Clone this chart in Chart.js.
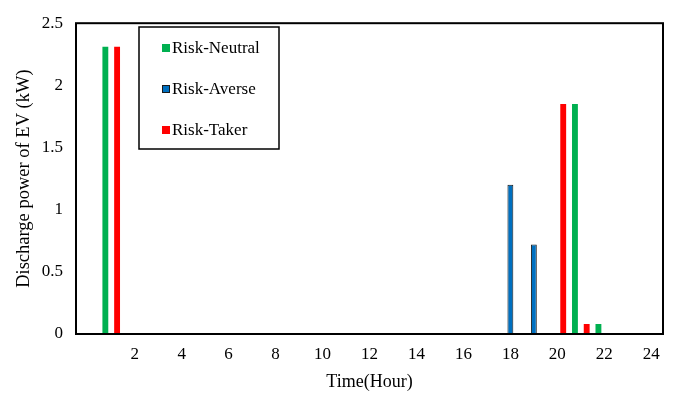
<!DOCTYPE html>
<html>
<head>
<meta charset="utf-8">
<script src="https://cdn.jsdelivr.net/npm/chart.js@4.4.0/dist/chart.umd.min.js"></script>
<style>
    html, body { margin: 0; padding: 0; background: #fff; }
    #wrap { width: 675px; height: 393px; position: relative; }
</style>
</head>
<body>
<div id="wrap"><canvas id="evChart"></canvas></div>
<script>
// Hours on the x axis (0 slot is left unlabeled, as in the original)
const hours = [0, 1, 2, 3, 4, 5, 6, 7, 8, 9, 10, 11, 12, 13, 14, 15, 16, 17, 18, 19, 20, 21, 22, 23, 24];

// Discharge power (kW) per hour
const riskNeutral = [0, 2.31, 0, 0, 0, 0, 0, 0, 0, 0, 0, 0, 0, 0, 0, 0, 0, 0, 0, 0, 0, 1.85, 0.08, 0, 0];
const riskAverse  = [0, 0, 0, 0, 0, 0, 0, 0, 0, 0, 0, 0, 0, 0, 0, 0, 0, 0, 1.2, 0.72, 0, 0, 0, 0, 0];
const riskTaker   = [0, 2.31, 0, 0, 0, 0, 0, 0, 0, 0, 0, 0, 0, 0, 0, 0, 0, 0, 0, 0, 1.85, 0.08, 0, 0, 0];

const yTicks = [0, 0.5, 1, 1.5, 2, 2.5];

const FONT = "'Liberation Serif', 'Times New Roman', serif";

// Black frame around the plot area
const frame = {
    id: 'frame',
    afterDraw(chart) {
        const { ctx, chartArea: a } = chart;
        ctx.save();
        ctx.strokeStyle = '#000';
        ctx.lineWidth = 2;
        ctx.strokeRect(a.left, a.top, a.right - a.left, a.bottom - a.top);
        ctx.restore();
    }
};

// Legend box drawn inside the plot, like the original
const boxLegend = {
    id: 'boxLegend',
    afterDraw(chart) {
        const ctx = chart.ctx;
        const x = 139, y = 27, w = 140, h = 122;
        ctx.save();
        ctx.fillStyle = '#fff';
        ctx.fillRect(x, y, w, h);
        ctx.strokeStyle = '#000';
        ctx.lineWidth = 1.5;
        ctx.strokeRect(x, y, w, h);
        ctx.font = '17px ' + FONT;
        ctx.textBaseline = 'middle';
        chart.data.datasets.forEach((ds, i) => {
            const cy = 48 + i * 41;
            ctx.fillStyle = ds.backgroundColor;
            ctx.fillRect(162, cy - 4, 8, 8);
            if (ds.borderWidth) {
                ctx.strokeStyle = ds.borderColor;
                ctx.lineWidth = 1;
                ctx.strokeRect(162.5, cy - 3.5, 7, 7);
            }
            ctx.fillStyle = '#000';
            ctx.fillText(ds.label, 172, cy + 1);
        });
        ctx.restore();
    }
};

document.addEventListener('DOMContentLoaded', function() {
    const ctx = document.getElementById('evChart').getContext('2d');
    new Chart(ctx, {
        type: 'bar',
        data: {
            labels: hours,
            datasets: [
                {
                    label: 'Risk-Neutral',
                    data: riskNeutral,
                    backgroundColor: '#00B050',
                    borderWidth: 0
                },
                {
                    label: 'Risk-Averse',
                    data: riskAverse,
                    backgroundColor: '#0070C0',
                    borderColor: '#1a1a1a',
                    borderWidth: 1,
                    borderSkipped: false
                },
                {
                    label: 'Risk-Taker',
                    data: riskTaker,
                    backgroundColor: '#FF0000',
                    borderWidth: 0
                }
            ]
        },
        options: {
            responsive: true,
            maintainAspectRatio: false,
            animation: false,
            layout: { padding: { top: 13, right: 12, left: 0, bottom: 0 } },
            datasets: {
                bar: { categoryPercentage: 0.75, barPercentage: 1.0 }
            },
            plugins: {
                legend: { display: false },
                tooltip: { enabled: false }
            },
            scales: {
                x: {
                    grid: { display: false, drawTicks: false },
                    border: { display: false },
                    ticks: {
                        color: '#000',
                        font: { family: FONT, size: 17 },
                        padding: 10,
                        autoSkip: false,
                        maxRotation: 0,
                        callback: function(value) {
                            const h = hours[value];
                            return (h > 0 && h % 2 === 0) ? String(h) : '';
                        }
                    },
                    title: {
                        display: true,
                        text: 'Time(Hour)',
                        color: '#000',
                        font: { family: FONT, size: 18 },
                        padding: { top: 0, bottom: 0 }
                    },
                    afterFit: function(scale) { scale.height = 59; }
                },
                y: {
                    min: 0,
                    max: 2.5,
                    grid: { display: false, drawTicks: false },
                    border: { display: false },
                    afterBuildTicks: function(scale) {
                        scale.ticks = yTicks.map(v => ({ value: v }));
                    },
                    ticks: {
                        color: '#000',
                        font: { family: FONT, size: 17 },
                        padding: 13,
                        callback: function(value) { return String(value); }
                    },
                    title: {
                        display: true,
                        text: 'Discharge power of EV (kW)',
                        color: '#000',
                        font: { family: FONT, size: 18.5 },
                        padding: { top: 13, bottom: 0 }
                    },
                    afterFit: function(scale) { scale.width = 76; }
                }
            }
        },
        plugins: [frame, boxLegend]
    });
});
</script>
</body>
</html>
